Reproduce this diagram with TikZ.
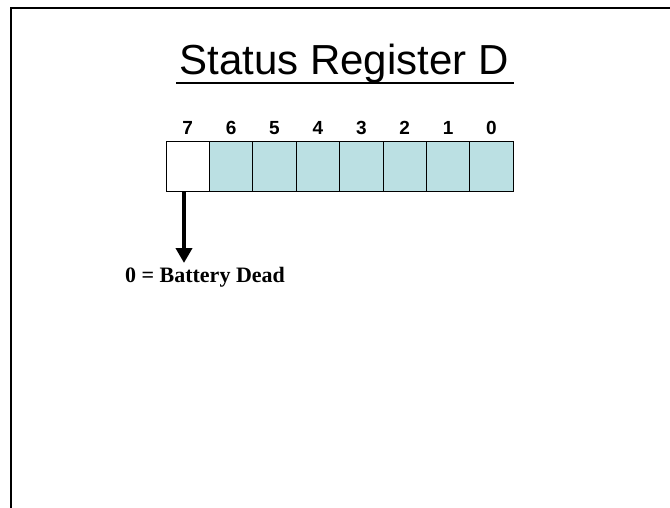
\documentclass[tikz,border=0pt]{standalone}
\usepackage{fontspec}
\setmainfont{Liberation Serif}
\setsansfont{Liberation Sans}
\usetikzlibrary{arrows.meta, positioning}
\definecolor{regfill}{HTML}{BBE0E3}
\tikzset{
  bitcell/.style={draw, line width=1pt, minimum width=43.4pt, minimum height=50pt,
    inner sep=0pt, outer sep=0pt},
  bitlabel/.style={font=\sffamily\bfseries\fontsize{19}{19}\selectfont, inner sep=0pt, anchor=base},
}

\begin{document}
\begin{tikzpicture}[x=1pt, y=-1pt]
  \useasboundingbox (0,0) rectangle (670,508);
  % slide frame
  \draw[line width=2pt] (11,508) -- (11,8) -- (670,8);
  % title
  \node (title) [font=\sffamily\fontsize{42}{42}\selectfont, anchor=base, inner sep=0pt] at (344,75) {Status Register D};
  \draw[line width=1.5pt] ([xshift=-3pt,yshift=-8pt]title.base west) -- ([xshift=5pt,yshift=-8pt]title.base east);
  % register cells, bit 7 on the left
  \foreach \b/\f [count=\i from 0] in {7/white,6/regfill,5/regfill,4/regfill,3/regfill,2/regfill,1/regfill,0/regfill}{
    \node (c\b) [bitcell, fill=\f] at ({187.7+43.4*\i},167) {};
    \node (l\b) [bitlabel] at ([yshift=7.5pt]c\b.north) {\b};
  }
  % bit 7 meaning
  \node (dead) [font=\bfseries\fontsize{22}{22}\selectfont, anchor=base, inner sep=0pt] at (205,282) {0 = Battery Dead};
  \coordinate (tip) at (184,263);
  \draw[-{Triangle[width=16pt,length=15pt]}, line width=4pt] (c7.south -| tip) -- (tip);
\end{tikzpicture}
\end{document}
